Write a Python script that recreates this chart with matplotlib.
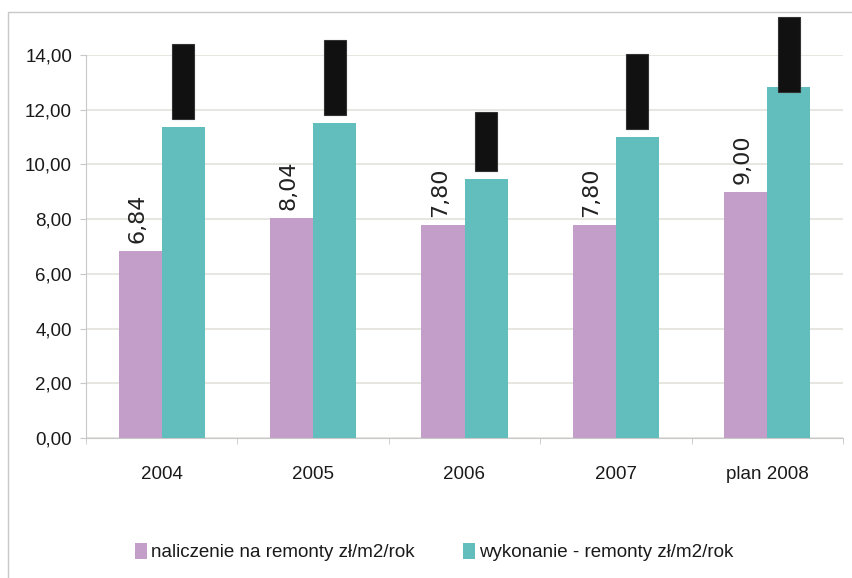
import numpy as np
import matplotlib
matplotlib.use("Agg")
import matplotlib.pyplot as plt
from matplotlib.patches import Rectangle
from matplotlib.ticker import FixedLocator, FuncFormatter

categories = ["2004", "2005", "2006", "2007", "plan 2008"]
naliczenie = [6.84, 8.04, 7.80, 7.80, 9.00]
wykonanie = [11.37, 11.52, 9.47, 11.01, 12.83]
series_names = ["naliczenie na remonty zł/m2/rok", "wykonanie - remonty zł/m2/rok"]

PURPLE = "#c29ec8"
TEAL = "#62bebc"
FONT = ["Liberation Sans", "DejaVu Sans"]
W, H = 852, 578


def comma(v, _=None):
    return f"{v:.2f}".replace(".", ",")


fig = plt.figure(figsize=(W / 100, H / 100), dpi=100)
# outer chart-area frame (cropped on right and bottom)
fig.patches.append(Rectangle((8 / W, -0.1), 1.2, 1.1 - 12 / H, transform=fig.transFigure,
                             fill=False, edgecolor="#c8c8c8", lw=1.0))
ax = fig.add_axes([86 / W, 1 - 438 / H, (843 - 86) / W, (438 - 55) / H])

x = np.arange(len(categories))
bw = 0.285
ax.bar(x - bw / 2, naliczenie, bw, color=PURPLE, label=series_names[0], zorder=3)
ax.bar(x + bw / 2, wykonanie, bw, color=TEAL, label=series_names[1], zorder=3)

# value labels of the first series
for xi, v in zip(x, naliczenie):
    ax.annotate(comma(v), (xi - bw / 2, v), xytext=(-3, 8), textcoords="offset pixels",
                rotation=90, ha="center", va="bottom", fontsize=16,
                family=["DejaVu Sans"], color="#222222")

# blacked-out labels of the second series: length follows the hidden label,
# kept inside the chart area
digit_h, pad_h, gap, top_cap = 0.58, 0.13, 0.3, 15.39
block_h = np.array([digit_h * (len(comma(v)) - 0.5) + pad_h for v in wykonanie])
block_bottom = np.minimum(np.array(wykonanie) + gap, top_cap - block_h)
ax.bar(x + bw / 2, block_h, 0.145, bottom=block_bottom, color="#111111",
       edgecolor="#333333", lw=0.8, zorder=4, clip_on=False)

ax.set_xlim(-0.5, len(categories) - 0.5)
ax.set_ylim(0, 14)
ax.yaxis.set_major_locator(FixedLocator(np.arange(0, 14.1, 2)))
ax.yaxis.set_major_formatter(FuncFormatter(comma))
ax.grid(axis="y", color="#e4e1dc", lw=1.2, zorder=0)
ax.set_axisbelow(True)

ax.set_xticks(x)
ax.set_xticklabels(categories)
ax.xaxis.set_minor_locator(FixedLocator(np.arange(-0.5, len(categories), 1)))
ax.tick_params(axis="x", which="major", length=0, pad=20)
ax.tick_params(axis="x", which="minor", length=4, color="#c8c8c8", direction="out")
ax.tick_params(axis="y", length=4.5, color="#c8c8c8", pad=5.5)
for lab in ax.get_xticklabels() + ax.get_yticklabels():
    lab.set_family(FONT)
    lab.set_fontsize(13.5)
    lab.set_color("#1a1a1a")

for s in ("top", "right"):
    ax.spines[s].set_visible(False)
for s in ("left", "bottom"):
    ax.spines[s].set_color("#c8c8c8")

leg = fig.legend(loc="center", bbox_to_anchor=(434 / W, 1 - 552 / H), ncol=2, frameon=False,
                 handlelength=0.65, handleheight=1.0, handletextpad=0.2, columnspacing=2.6,
                 prop={"family": FONT, "size": 13.5})
for t in leg.get_texts():
    t.set_color("#1a1a1a")

fig.savefig("out.png", dpi=100)
